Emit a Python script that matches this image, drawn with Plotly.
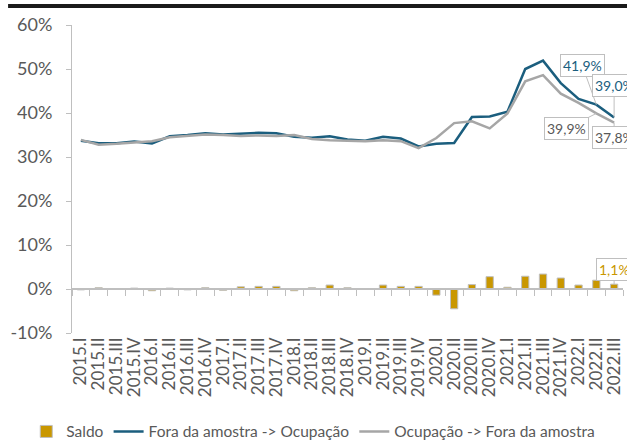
import plotly.graph_objects as go

categories = [
    "2015.I", "2015.II", "2015.III", "2015.IV",
    "2016.I", "2016.II", "2016.III", "2016.IV",
    "2017.I", "2017.II", "2017.III", "2017.IV",
    "2018.I", "2018.II", "2018.III", "2018.IV",
    "2019.I", "2019.II", "2019.III", "2019.IV",
    "2020.I", "2020.II", "2020.III", "2020.IV",
    "2021.I", "2021.II", "2021.III", "2021.IV",
    "2022.I", "2022.II", "2022.III",
]
saldo = [-0.2, 0.3, 0.1, 0.2, -0.4, 0.2, -0.2, 0.3, -0.3, 0.5, 0.6, 0.6,
         -0.4, 0.3, 0.9, 0.3, 0.1, 0.9, 0.6, 0.6, -1.4, -4.5, 1.0, 2.8,
         0.4, 2.9, 3.4, 2.5, 0.9, 2.0, 1.1]
fora_ocup = [33.7, 33.1, 33.1, 33.5, 33.1, 34.7, 35.0, 35.4, 35.1, 35.3, 35.5, 35.4,
             34.6, 34.4, 34.7, 34.0, 33.7, 34.6, 34.2, 32.4, 33.0, 33.2, 39.1, 39.2,
             40.3, 50.0, 51.9, 46.8, 43.2, 41.9, 39.0]
ocup_fora = [33.9, 32.8, 33.0, 33.3, 33.6, 34.5, 34.8, 35.1, 35.0, 34.8, 34.9, 34.8,
             35.0, 34.1, 33.8, 33.7, 33.6, 33.8, 33.6, 32.0, 34.3, 37.7, 38.1, 36.5,
             39.9, 47.2, 48.6, 44.4, 42.3, 39.9, 37.8]
y_tickvals = [-10, 0, 10, 20, 30, 40, 50, 60]
y_ticktext = ["-10%", "0%", "10%", "20%", "30%", "40%", "50%", "60%"]

FONT = "Lato"
GOLD = "#C99700"
BLUE = "#1B5E7E"
GRAY = "#A6A6A6"
TXT = "#595959"
AXIS = "#BFBFBF"

fig = go.Figure()
fig.add_bar(x=categories, y=saldo, name="Saldo",
            marker=dict(color=GOLD, line=dict(color=AXIS, width=1)))
fig.add_scatter(x=categories, y=fora_ocup, mode="lines",
                name="Fora da amostra -> Ocupação",
                line=dict(color=BLUE, width=2.5))
fig.add_scatter(x=categories, y=ocup_fora, mode="lines",
                name="Ocupação -> Fora da amostra",
                line=dict(color=GRAY, width=2.5))
# helper trace so the zero-line category axis (with boundary ticks) is drawn
fig.add_scatter(x=categories, y=saldo, mode="lines", xaxis="x2",
                line=dict(width=0), opacity=0, showlegend=False, hoverinfo="skip")


def fmt(v):
    return f"{v:.1f}%".replace(".", ",")


ann_style = dict(showarrow=True, arrowhead=0, arrowwidth=1, arrowcolor=AXIS,
                 bordercolor=AXIS, borderwidth=1, borderpad=2, bgcolor="white")
n = len(categories)
fig.add_annotation(x=categories[n - 2], y=fora_ocup[n - 2], text=fmt(fora_ocup[n - 2]),
                   ax=-14, ay=-39, font=dict(family=FONT, size=14, color=BLUE), **ann_style)
fig.add_annotation(x=categories[n - 1], y=fora_ocup[n - 1], text=fmt(fora_ocup[n - 1]),
                   ax=0, ay=-32, font=dict(family=FONT, size=14, color=BLUE), **ann_style)
fig.add_annotation(x=categories[n - 2], y=ocup_fora[n - 2], text=fmt(ocup_fora[n - 2]),
                   ax=-30, ay=15, font=dict(family=FONT, size=14, color=TXT), **ann_style)
fig.add_annotation(x=categories[n - 1], y=ocup_fora[n - 1], text=fmt(ocup_fora[n - 1]),
                   ax=0, ay=15, font=dict(family=FONT, size=14, color=TXT), **ann_style)
fig.add_annotation(x=categories[n - 1], y=saldo[n - 1], text=fmt(saldo[n - 1]),
                   ax=0, ay=-15, font=dict(family=FONT, size=14, color=GOLD), **ann_style)

# thick black rule at the top of the page
fig.add_shape(type="rect", xref="paper", yref="paper",
              x0=-0.116, x1=1.01, y0=1.0552, y1=1.0682,
              fillcolor="#1a1a1a", line=dict(width=0), layer="above")

fig.update_layout(
    width=627, height=444,
    margin=dict(l=72, r=4, t=25, b=111, autoexpand=False),
    paper_bgcolor="white", plot_bgcolor="white",
    font=dict(family=FONT, size=16, color=TXT),
    barmode="overlay", bargap=0.59,
    showlegend=True,
    legend=dict(orientation="h", xref="paper", yref="paper",
                x=-0.083, xanchor="left", y=-0.321, yanchor="middle",
                font=dict(family=FONT, size=15.5, color=TXT), itemwidth=30,
                tracegroupgap=0, traceorder="normal"),
    xaxis=dict(type="category", categoryorder="array", categoryarray=categories,
               showline=False, showgrid=False, zeroline=False, ticks="",
               tickmode="linear", dtick=1, automargin=False,
               tickangle=-90, tickfont=dict(family=FONT, size=17, color=TXT),
               range=[-0.5, n - 0.5]),
    xaxis2=dict(type="category", categoryorder="array", categoryarray=categories,
                overlaying="x", anchor="free", position=1 / 7, side="bottom",
                showline=True, linecolor=AXIS, linewidth=1.5,
                ticks="outside", tickson="boundaries", ticklen=6, tickcolor=AXIS,
                showticklabels=False, showgrid=False, zeroline=False, automargin=False,
                range=[-0.5, n - 0.5]),
    yaxis=dict(range=[-10, 60], tickvals=y_tickvals, ticktext=y_ticktext,
               showline=True, linecolor=AXIS, linewidth=1, automargin=False,
               ticks="outside", ticklen=5, tickcolor=AXIS,
               showgrid=False, zeroline=False, ticklabelstandoff=10,
               tickfont=dict(family=FONT, size=18, color=TXT)),
)

fig.write_html("out.html")
